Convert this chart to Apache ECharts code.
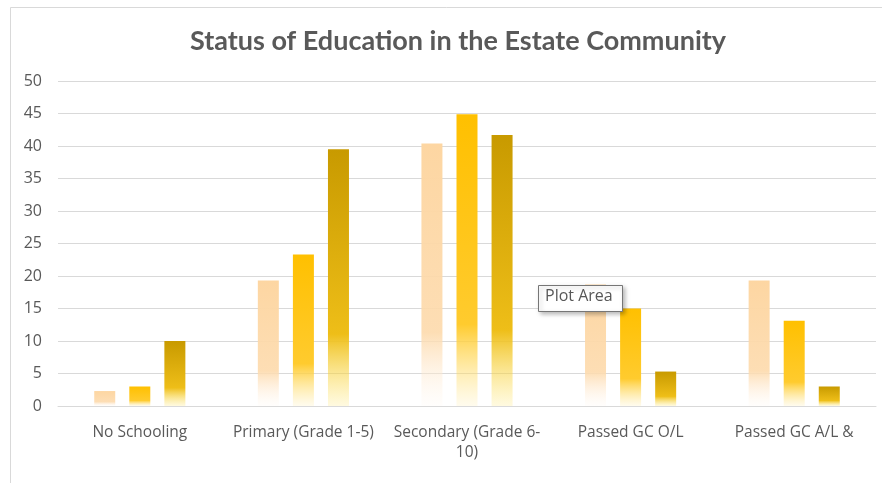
<!DOCTYPE html>
<html>
<head>
<meta charset="utf-8">
<script src="https://cdn.jsdelivr.net/npm/echarts@6/dist/echarts.min.js"></script>
<style>
html,body{margin:0;padding:0;background:#fff;}
#c{width:882px;height:483px;}
</style>
</head>
<body>
<div id="c"></div>
<script>
var titleText = 'Status of Education in the Estate Community';
var categories = ['No Schooling', 'Primary (Grade 1-5)', 'Secondary (Grade 6-\n10)', 'Passed GC O/L', 'Passed GC A/L &'];
var series1 = [2.3, 19.3, 40.4, 18.7, 19.3];
var series2 = [3.0, 23.3, 44.9, 15.0, 13.1];
var series3 = [10.0, 39.5, 41.7, 5.3, 3.0];
var yTicks = [0, 5, 10, 15, 20, 25, 30, 35, 40, 45, 50];

function grad(top, mid, bottom) {
  return new echarts.graphic.LinearGradient(0, 0, 0, 1, [
    {offset: 0, color: top},
    {offset: 0.72, color: mid},
    {offset: 1, color: bottom}
  ]);
}

var chart = echarts.init(document.getElementById('c'));
var font = '"Open Sans", "Noto Sans", sans-serif';
chart.setOption({
  animation: false,
  backgroundColor: '#fff',
  title: {
    text: titleText,
    left: 453, top: 23, textAlign: 'center',
    textStyle: {fontFamily: 'Lato', fontWeight: 'bold', fontSize: 27, color: '#595959'}
  },
  grid: {left: 58, right: 6, top: 81, bottom: 77},
  xAxis: {
    type: 'category',
    data: categories,
    axisLine: {lineStyle: {color: '#d9d9d9', width: 1}},
    axisTick: {show: false},
    axisLabel: {color: '#595959', fontFamily: font, fontSize: 15.5, margin: 17, lineHeight: 20, interval: 0}
  },
  yAxis: {
    type: 'value', min: yTicks[0], max: yTicks[yTicks.length - 1], interval: 5,
    axisLine: {show: false}, axisTick: {show: false},
    splitLine: {lineStyle: {color: '#d9d9d9', width: 1}},
    axisLabel: {color: '#595959', fontFamily: font, fontSize: 16, margin: 16}
  },
  series: [
    {type: 'bar', data: series1, barWidth: 21, barGap: '67%',
     itemStyle: {color: grad('#FDD6A2', 'rgba(253,218,172,0.9)', 'rgba(255,245,235,0.15)')}},
    {type: 'bar', data: series2, barWidth: 21, barGap: '67%',
     itemStyle: {color: grad('#FFC000', '#FFCB2E', 'rgba(255,230,140,0.15)')}},
    {type: 'bar', data: series3, barWidth: 21, barGap: '67%',
     itemStyle: {color: grad('#C89A00', '#EEBE18', 'rgba(255,228,100,0.2)')}}
  ],
  graphic: [
    {type: 'rect', left: 8, top: 5, z: 0, silent: true,
     shape: {width: 900, height: 500},
     style: {fill: 'none', stroke: '#d9d9d9', lineWidth: 1}},
    {type: 'rect', left: 538, top: 285, z: 100,
     shape: {width: 84, height: 26},
     style: {fill: '#fff', stroke: '#767676', lineWidth: 1, shadowBlur: 4, shadowOffsetX: 2, shadowOffsetY: 2, shadowColor: 'rgba(0,0,0,0.25)'}},
    {type: 'text', left: 545, top: 288, z: 101,
     style: {text: 'Plot Area', fill: '#575757', font: '16px "Open Sans"'}}
  ]
});
</script>
</body>
</html>
